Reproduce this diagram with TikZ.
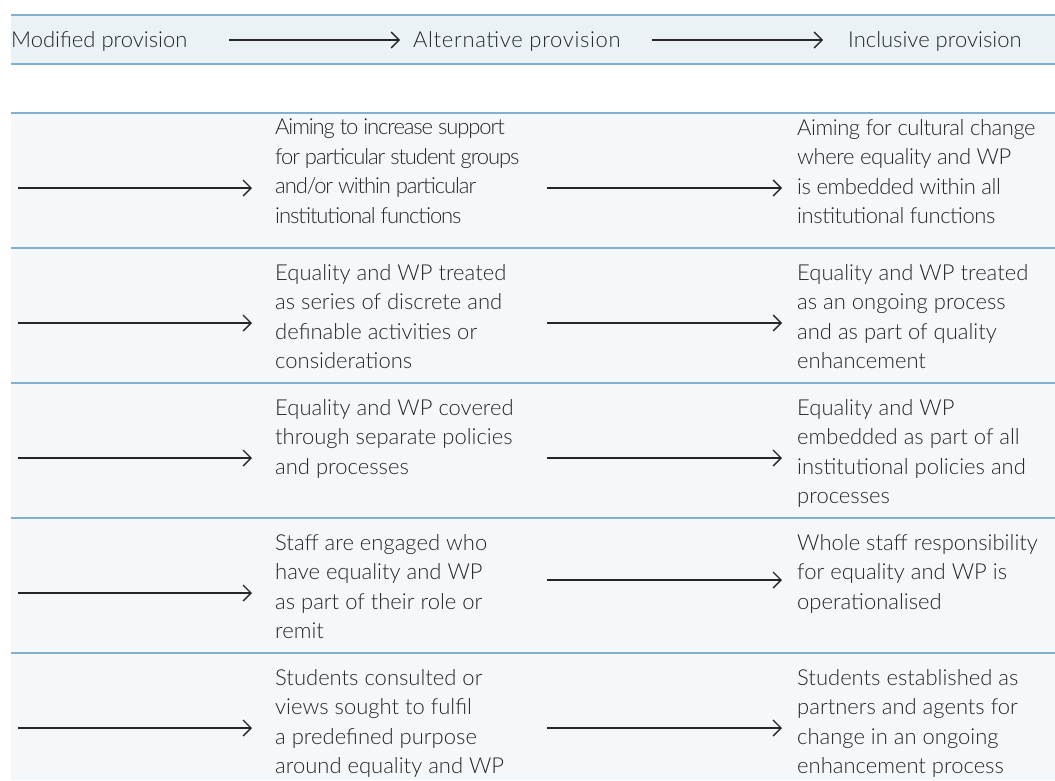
\documentclass[tikz,border=0pt]{standalone}
\usepackage{fontspec}
\setmainfont{Lato Light}
\usetikzlibrary{arrows.meta}
\definecolor{rulecol}{HTML}{82B1CF}
\definecolor{headfill}{HTML}{EAF2F6}
\definecolor{bodyfill}{HTML}{F4F8FB}
\definecolor{inkcol}{HTML}{262626}

\begin{document}
\begin{tikzpicture}[x=1pt,y=-1pt,
  cell/.style={anchor=north west,inner sep=0pt,align=left,text=inkcol,font=\fontsize{22}{29.5}\selectfont},
  head/.style={anchor=base west,inner sep=0pt,text=inkcol,font=\fontsize{22}{26}\selectfont},
  flow/.style={draw=inkcol,line width=1.3pt,-{Straight Barb[length=8pt,width=16pt,line width=1.3pt]}},
  rule/.style={draw=rulecol,line width=1.6pt}]
\useasboundingbox (0,0) rectangle (1055,780);
% bands
\fill [headfill] (11,15) rectangle (1055,64);
\fill [bodyfill] (11,113) rectangle (1055,780);
\draw [rule] (11,15) -- (1055,15);
\draw [rule] (11,64) -- (1055,64);
\draw [rule] (11,113) -- (1055,113);
\draw [rule] (11,248) -- (1055,248);
\draw [rule] (11,383) -- (1055,383);
\draw [rule] (11,518) -- (1055,518);
\draw [rule] (11,653) -- (1055,653);
% heading
\node [head] (hmod) at (11,47) {Modified provision};
\node [head, font=\fontsize{22}{26}\selectfont\addfontfeature{LetterSpace=3}] (halt) at (413,47) {Alternative provision};
\node [head] (hinc) at (848,47) {Inclusive provision};
\coordinate (h1) at (229,40);
\coordinate (h2) at (652,40);
\draw [flow, shorten >=13pt] (h1) -- (h1 -| halt.west);
\draw [flow, shorten >=25pt] (h2) -- (h2 -| hinc.west);
% row 1
\node [cell, font=\fontsize{22}{29.5}\selectfont\addfontfeature{LetterSpace=-5}] (m1) at (275,119) {Aiming to increase support\\for particular student groups\\and/or within particular\\institutional functions};
\node [cell, font=\fontsize{22}{29.5}\selectfont\addfontfeature{LetterSpace=-2}] (r1) at (797,119) {Aiming for cultural change\\where equality and WP\\is embedded within all\\institutional functions};
% row 2
\node [cell] (m2) at (275,264) {Equality and WP treated\\as series of discrete and\\definable activities or\\considerations};
\node [cell] (r2) at (797,264) {Equality and WP treated\\as an ongoing process\\and as part of quality\\enhancement};
% row 3
\node [cell] (m3) at (275,399) {Equality and WP covered\\through separate policies\\and processes};
\node [cell] (r3) at (797,399) {Equality and WP\\embedded as part of all\\institutional policies and\\processes};
% row 4
\node [cell] (m4) at (275,534) {Staff are engaged who\\have equality and WP\\as part of their role or\\remit};
\node [cell] (r4) at (797,534) {Whole staff responsibility\\for equality and WP is\\operationalised};
% row 5
\node [cell] (m5) at (275,669) {Students consulted or\\views sought to fulfil\\a predefined purpose\\around equality and WP};
\node [cell] (r5) at (797,669) {Students established as\\partners and agents for\\change in an ongoing\\enhancement process};
% arrows
\coordinate (l1) at (18,188);
\coordinate (l2) at (18,323);
\coordinate (l3) at (18,458);
\coordinate (l4) at (18,593);
\coordinate (l5) at (18,728);
\coordinate (k1) at (547,188);
\coordinate (k2) at (547,323);
\coordinate (k3) at (547,458);
\coordinate (k4) at (547,580);
\coordinate (k5) at (547,728);
\draw [flow, shorten >=23pt] (l1) -- (l1 -| m1.west);
\draw [flow, shorten >=23pt] (l2) -- (l2 -| m2.west);
\draw [flow, shorten >=23pt] (l3) -- (l3 -| m3.west);
\draw [flow, shorten >=23pt] (l4) -- (l4 -| m4.west);
\draw [flow, shorten >=23pt] (l5) -- (l5 -| m5.west);
\draw [flow, shorten >=15pt] (k1) -- (k1 -| r1.west);
\draw [flow, shorten >=15pt] (k2) -- (k2 -| r2.west);
\draw [flow, shorten >=15pt] (k3) -- (k3 -| r3.west);
\draw [flow, shorten >=15pt] (k4) -- (k4 -| r4.west);
\draw [flow, shorten >=15pt] (k5) -- (k5 -| r5.west);
\end{tikzpicture}
\end{document}
